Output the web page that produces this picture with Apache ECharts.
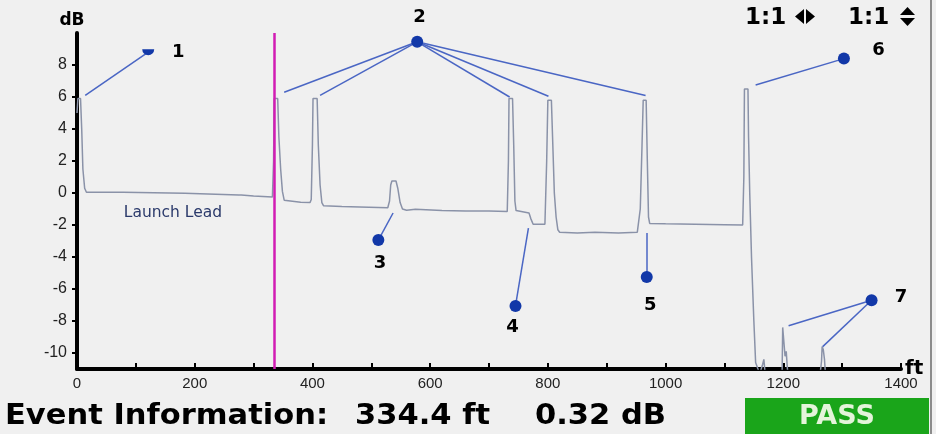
<!DOCTYPE html>
<html>
<head>
<meta charset="utf-8">
<script src="https://cdn.jsdelivr.net/npm/echarts@6/dist/echarts.min.js"></script>
<style>
  html, body { margin: 0; padding: 0; background: #f0f0f0; }
  #chart { width: 936px; height: 434px; }
</style>
</head>
<body>
<div id="chart"></div>
<script>
// OTDR trace: [distance ft, level dB]
const trace = [
  [0, 5.0], [1.5, 5.9], [6, 5.9], [8, 4], [10, 1.5], [13, 0.3], [16, 0.05],
  [78, 0.05], [80, -0.02], [183, -0.02], [185, -0.1], [275, -0.12], [277, -0.05],
  [279, -0.12], [300, -0.18], [332, -0.25],
  [334, 2], [335, 5.9], [341, 5.9], [343, 3.5], [346, 1.5], [349, 0.1], [352, -0.45],
  [355, -0.55], [380, -0.58], [396, -0.6], [398, -0.4],
  [400, 3], [401, 5.9], [408, 5.9], [410, 3], [413, 0.5], [416, -0.6], [419, -0.8],
  [450, -0.85], [480, -0.88], [528, -0.92],
  [531, -0.5], [533, 0.5], [535, 0.75], [542, 0.75], [545, 0.3], [549, -0.6], [553, -1.0],
  [560, -1.08], [575, -1.02], [578, -1.1], [620, -1.1], [660, -1.12], [700, -1.12], [731, -1.15],
  [733, 2], [734, 5.9], [740, 5.9], [742, 3], [744, -0.5], [746, -1.1], [748, -1.2],
  [768, -1.25], [771, -1.6], [775, -1.95], [795, -1.95],
  [798, 2], [800, 5.8], [806, 5.8], [808, 3.5], [811, 0], [814, -1.5], [817, -2.3],
  [820, -2.45], [850, -2.5], [880, -2.45], [920, -2.5], [952, -2.45],
  [957, -1], [960, 3], [962, 5.8], [967, 5.8], [969, 2], [971, -1.5], [973, -1.9],
  [1000, -1.92], [1050, -1.95], [1100, -1.98], [1131, -2.0],
  [1133, 1], [1134, 6.5], [1140, 6.5], [1141, 3.5], [1143, 0], [1146, -4], [1150, -8],
  [1153, -10.6], [1156, -10.9], [1160, -11.3], [1165, -10.7], [1167, -10.4], [1169, -11.2],
  [1175, -11.5], [1198, -11.2], [1199, -8.4], [1201, -8.4], [1203, -10.2], [1205, -9.9],
  [1207, -11], [1210, -11.5], [1262, -11.5], [1265, -10.5], [1266, -9.6], [1268, -9.8],
  [1270, -10.4], [1272, -11.5], [1400, -11.5]
];

// event markers
const eventNames = ['1', '2', '3', '4', '5', '6', '7'];
const eventDots = [[121, 8.8], [578, 9.45], [512, -2.94], [745, -7.06], [968, -5.25], [1303, 8.4], [1350, -6.7]];
const eventLabelAt = [[172, 8.8], [582, 11.0], [515, -4.4], [740, -8.4], [974, -7.05], [1362, 8.9], [1400, -6.5]];
const leaderEnds = [
  [[14, 6.1]],
  [[352, 6.3], [413, 6.1], [735, 6.0], [801, 6.05], [966, 6.1]],
  [[537, -1.25]],
  [[767, -2.2]],
  [[968, -2.5]],
  [[1153, 6.75]],
  [[1209, -8.3], [1267, -9.6]]
];
const launchLeadAt = [163, -1.25];

const cursorFt = 334.4;
const cursorLoss = 0.32;
const yTicks = [-10, -8, -6, -4, -2, 0, 2, 4, 6, 8];

let leaderData = [];
eventDots.forEach(function (dot, i) {
  leaderEnds[i].forEach(function (end) {
    leaderData.push({ coords: [end, dot] });
  });
});

const infoFont = 'bold 28px "DejaVu Sans"';

let option = {
  animation: false,
  backgroundColor: '#f0f0f0',
  grid: { left: 77, right: 35, top: 33, bottom: 65, containLabel: false, outerBoundsMode: 'none' },
  xAxis: {
    type: 'value',
    min: 0,
    max: 1400,
    interval: 100,
    axisLine: { onZero: false, lineStyle: { color: '#000', width: 4 } },
    axisTick: { inside: true, length: 6, lineStyle: { color: '#000', width: 2 } },
    axisLabel: {
      margin: 7,
      color: '#222',
      fontSize: 15,
      fontFamily: 'Liberation Sans',
      formatter: function (v) { return v % 200 === 0 ? String(v) : ''; }
    },
    splitLine: { show: false }
  },
  yAxis: {
    type: 'value',
    min: -11,
    max: 10,
    name: 'dB',
    nameLocation: 'end',
    nameGap: 4,
    nameTextStyle: { color: '#000', fontWeight: 'bold', fontSize: 17, fontFamily: 'DejaVu Sans', padding: [0, 10, 0, 0] },
    axisLine: { onZero: false, lineStyle: { color: '#000', width: 4 } },
    axisTick: { customValues: yTicks, length: 5, lineStyle: { color: '#000', width: 2 } },
    axisLabel: { customValues: yTicks, margin: 10, color: '#222', fontSize: 16, fontFamily: 'Liberation Sans' },
    splitLine: { show: false }
  },
  series: [
    {
      name: 'trace',
      type: 'line',
      data: trace,
      showSymbol: false,
      clip: true,
      lineStyle: { color: '#8a92a8', width: 1.5 },
      markLine: {
        silent: true,
        symbol: ['none', 'none'],
        label: { show: false },
        lineStyle: { color: '#d21cb4', width: 2.5, type: 'solid' },
        data: [{ xAxis: cursorFt }]
      },
      z: 2
    },
    {
      name: 'leaders',
      type: 'lines',
      coordinateSystem: 'cartesian2d',
      data: leaderData,
      lineStyle: { color: '#4a66c4', width: 1.5, opacity: 1 },
      z: 3
    },
    {
      name: 'events',
      type: 'scatter',
      data: eventDots.map(function (d, i) {
        return i === 0
          ? { value: d, symbol: 'path://M0 0H10A5 5 0 0 1 0 0Z', symbolSize: [12, 6] }
          : { value: d };
      }),
      symbolSize: 12,
      itemStyle: { color: '#1238a8', opacity: 1 },
      clip: false,
      z: 4
    },
    {
      name: 'eventLabels',
      type: 'scatter',
      clip: false,
      symbolSize: 1,
      itemStyle: { color: 'transparent', opacity: 1 },
      data: eventLabelAt.map(function (p, i) {
        return { value: p, name: eventNames[i] };
      }),
      label: {
        show: true,
        position: 'inside',
        formatter: '{b}',
        color: '#000',
        opacity: 1,
        fontWeight: 'bold',
        fontSize: 18,
        fontFamily: 'DejaVu Sans'
      },
      z: 5
    },
    {
      name: 'launchLead',
      type: 'scatter',
      symbolSize: 1,
      itemStyle: { color: 'transparent', opacity: 1 },
      data: [{ value: launchLeadAt, name: 'Launch Lead' }],
      label: {
        show: true,
        position: 'inside',
        formatter: '{b}',
        color: '#2b3a6b',
        opacity: 1,
        fontSize: 15.5,
        fontFamily: 'DejaVu Sans'
      }
    }
  ],
  graphic: [
    { type: 'line', shape: { x1: 931, y1: 0, x2: 931, y2: 434 }, style: { stroke: '#8c8c8c', lineWidth: 2 } },
    // x-axis unit
    { type: 'text', x: 905, y: 369, style: { text: 'ft', fill: '#000', font: 'bold 20px "DejaVu Sans"', verticalAlign: 'middle' } },
    { type: 'text', left: 745, top: 7, style: { text: '1:1', fill: '#000', font: 'bold 23px "DejaVu Sans"' } },
    { type: 'polygon', shape: { points: [[804, 9], [804, 24], [795, 16.5]] }, style: { fill: '#000' } },
    { type: 'polygon', shape: { points: [[806, 9], [806, 24], [815, 16.5]] }, style: { fill: '#000' } },
    { type: 'text', left: 848, top: 7, style: { text: '1:1', fill: '#000', font: 'bold 23px "DejaVu Sans"' } },
    { type: 'polygon', shape: { points: [[900, 15], [915, 15], [907.5, 7]] }, style: { fill: '#000' } },
    { type: 'polygon', shape: { points: [[900, 18], [915, 18], [907.5, 26]] }, style: { fill: '#000' } },
    {
      type: 'text', x: 5, y: 417, scaleX: 1.09,
      style: { text: 'Event Information:', fill: '#000', font: infoFont, verticalAlign: 'middle' }
    },
    {
      type: 'text', x: 355, y: 417, scaleX: 1.09,
      style: { text: cursorFt.toFixed(1) + ' ft', fill: '#000', font: infoFont, verticalAlign: 'middle' }
    },
    {
      type: 'text', x: 535, y: 417, scaleX: 1.09,
      style: { text: cursorLoss.toFixed(2) + ' dB', fill: '#000', font: infoFont, verticalAlign: 'middle' }
    },
    { type: 'rect', shape: { x: 745, y: 398, width: 184, height: 36 }, style: { fill: '#1aa51a' } },
    {
      type: 'text', x: 837, y: 417,
      style: { text: 'PASS', fill: '#e4f4da', font: 'bold 27px "DejaVu Sans"', align: 'center', verticalAlign: 'middle' }
    }
  ]
};

let myChart = echarts.init(document.getElementById('chart'));
myChart.setOption(option);
</script>
</body>
</html>
